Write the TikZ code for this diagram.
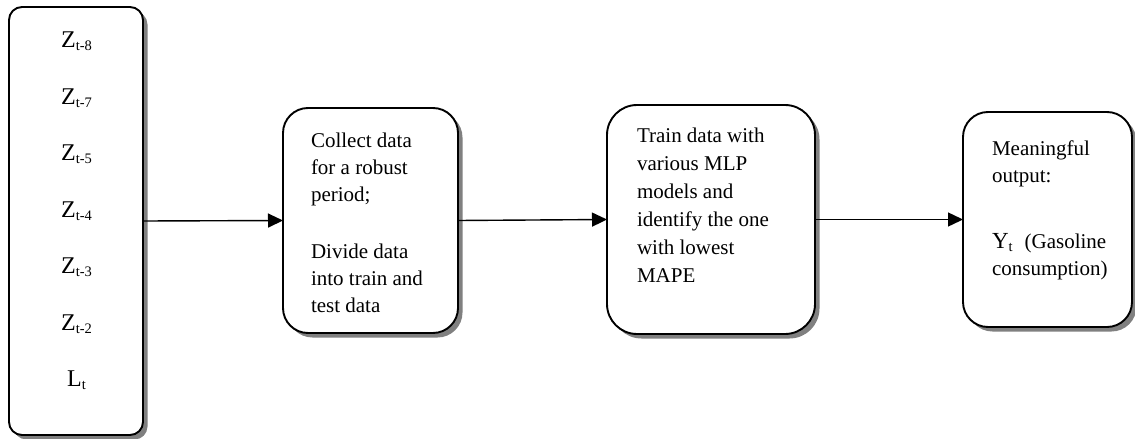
\documentclass[tikz,border=0pt]{standalone}
\usepackage{fontspec}
\setmainfont{Liberation Serif}
\usetikzlibrary{arrows.meta,shadows}
% small lowered index, as in Z_{t-8}
\newcommand\lagsub[1]{\raisebox{-3pt}{\fontsize{14.5}{14.5}\selectfont #1}}
\begin{document}
\begin{tikzpicture}[x=1pt,y=-1pt,
  stage/.style={draw,line width=1.9pt,fill=white,rounded corners=#1,
    inner sep=0pt,outer sep=0pt,
    drop shadow={shadow xshift=4.5pt,shadow yshift=-4.5pt,fill=black!50,opacity=1}},
  blocktext/.style={inner sep=0pt,outer sep=0pt,align=left,anchor=north west},
  flow/.style={-{Triangle[length=15pt,width=14pt]},line width=1.4pt}]
\useasboundingbox (0,0) rectangle (1135,439);

% boxes
\node[stage=13pt,minimum width=134pt,minimum height=428pt] (b1) at (76,221) {};
\node[stage=25pt,minimum width=175pt,minimum height=225pt] (b2) at (370.5,220.5) {};
\node[stage=30pt,minimum width=208pt,minimum height=229pt] (b3) at (711,219.5) {};
\node[stage=25pt,minimum width=169pt,minimum height=215pt] (b4) at (1047.5,219.5) {};

% box contents
\node[blocktext,anchor=north,align=center,font=\fontsize{24}{56.5}\selectfont] (lags) at (76.5,32.2)
  {Z\lagsub{t-8}\\Z\lagsub{t-7}\\Z\lagsub{t-5}\\Z\lagsub{t-4}\\Z\lagsub{t-3}\\Z\lagsub{t-2}\\L\lagsub{t}};
\node[blocktext,font=\fontsize{21}{27}\selectfont] (t2) at (311,132.7)
  {Collect data\\for a robust\\period;\\[30pt]Divide data\\into train and\\test data};
\node[blocktext,font=\fontsize{21}{28}\selectfont] (t3) at (637,128.4)
  {Train data with\\various MLP\\models and\\identify the one\\with lowest\\MAPE};
\node[blocktext,font=\fontsize{21}{27}\selectfont] (t4) at (992,140.7)
  {Meaningful\\output:\\[39pt]{\fontsize{23}{27}\selectfont Y}\lagsub{t}\hspace{12pt}(Gasoline\\consumption)};

% connectors
\draw[flow] (b1.east) -- (b2.west);
\draw[flow] (b2.east) -- (b3.west);
\draw[flow] (b3.east) -- (b4.west);
\end{tikzpicture}
\end{document}
